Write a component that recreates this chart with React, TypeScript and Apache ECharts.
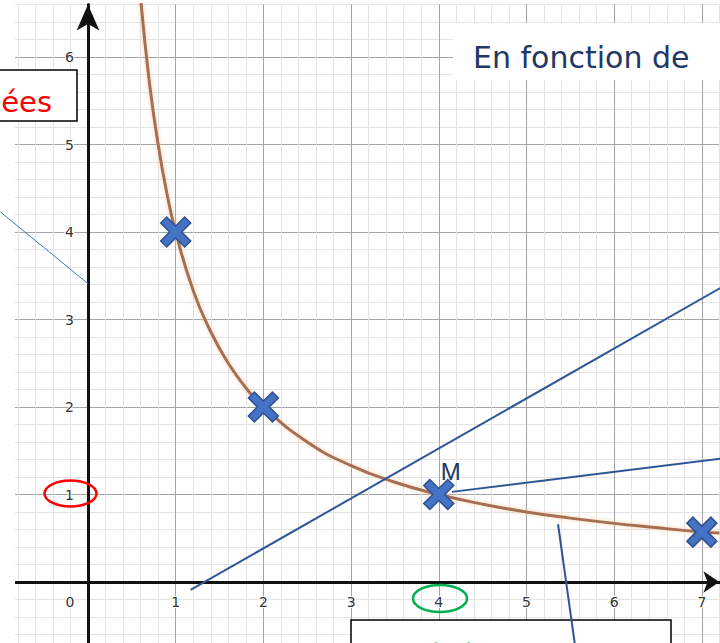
import React, { useEffect, useRef } from "react";
import * as echarts from "echarts";

// Tick labels shown on the axes
const xTickLabels = [0, 1, 2, 3, 4, 5, 6, 7];
const yTickLabels = [1, 2, 3, 4, 5, 6];

// Curve (x, y)
const curveX = [0.6, 0.7, 0.8, 0.9, 1, 1.2, 1.4, 1.6, 1.8, 2, 2.5, 3, 3.5, 4, 4.5, 5, 5.5, 6, 6.5, 7, 7.2];
const curveY = [6.67, 5.71, 5.0, 4.44, 4.0, 3.33, 2.86, 2.5, 2.22, 2.0, 1.6, 1.33, 1.14, 1.0, 0.89, 0.8, 0.73, 0.67, 0.62, 0.57, 0.56];

// Marked points (crosses)
const pointsX = [1, 2, 4, 7];
const pointsY = [4, 2, 1, 0.57];
const pointNames = ["", "", "M", ""];

// Annotation pointer lines (data coordinates)
const pointerA = [[1.17, -0.09], [7.21, 3.36]];
const pointerB = [[4.15, 1.03], [7.21, 1.41]];
const pointerC = [[5.36, 0.66], [5.55, -0.7]];
const pointerD = [[-1.0, 4.23], [0, 3.41]];

const crossPath =
  "path://M2,0 L5,3 L8,0 L10,2 L7,5 L10,8 L8,10 L5,7 L2,10 L0,8 L3,5 L0,2 Z";

const MINOR = "#e4e4e4";
const MAJOR = "#a3a3a3";

function isInt(v: number) {
  return Math.abs(v - Math.round(v)) < 1e-6;
}

export default function App() {
  const ref = useRef<HTMLDivElement>(null);
  useEffect(() => {
    document.body.style.margin = "0";
    const chart = echarts.init(ref.current!, undefined, { renderer: "svg" });
    const labelStyle = {
      color: "#333",
      fontSize: 14,
      fontFamily: "DejaVu Sans",
      textBorderColor: "#fff",
      textBorderWidth: 2,
    };
    const option: any = {
      animation: false,
      backgroundColor: "#fff",
      grid: {
        left: 0.3,
        right: 0.6,
        top: 4.5,
        bottom: -9,
        containLabel: false,
        outerBoundsMode: "none",
      },
      xAxis: {
        type: "value",
        min: -1,
        max: 7.2,
        interval: 0.2,
        z: 0,
        axisLine: {
          onZero: true,
          symbol: ["none", "arrow"],
          symbolSize: [16, 16],
          lineStyle: { color: "#111", width: 3 },
        },
        axisTick: { show: false },
        splitLine: {
          show: true,
          lineStyle: { color: [MAJOR, MINOR, MINOR, MINOR, MINOR], width: 1 },
        },
        axisLabel: {
          ...labelStyle,
          margin: -57,
          formatter: (v: number) => {
            if (!isInt(v)) return "";
            const r = Math.round(v);
            if (!xTickLabels.includes(r)) return "";
            if (r === 0) return "{z|0}";
            return String(r);
          },
          rich: {
            z: { ...labelStyle, padding: [0, 36, 0, 0] },
          },
        },
      },
      yAxis: {
        type: "value",
        min: -0.8,
        max: 6.6,
        interval: 0.2,
        z: 0,
        axisLine: {
          onZero: true,
          symbol: ["none", "arrow"],
          symbolSize: [17, 26],
          lineStyle: { color: "#111", width: 3 },
        },
        axisTick: { show: false },
        splitLine: {
          show: true,
          lineStyle: { color: [MINOR, MINOR, MINOR, MINOR, MAJOR], width: 1 },
        },
        axisLabel: {
          ...labelStyle,
          margin: -73.5,
          formatter: (v: number) => {
            if (!isInt(v)) return "";
            const r = Math.round(v);
            return yTickLabels.includes(r) ? String(r) : "";
          },
        },
      },
      series: [
        {
          type: "line",
          data: curveX.map((x, i) => [x, curveY[i]]),
          smooth: true,
          showSymbol: false,
          lineStyle: {
            color: "#a56e55",
            width: 3,
            shadowColor: "rgba(245,195,150,0.8)",
            shadowBlur: 4,
          },
          z: 3,
        },
        {
          type: "line",
          data: pointerA,
          showSymbol: false,
          lineStyle: { color: "#2f5597", width: 2 },
          z: 4,
        },
        {
          type: "line",
          data: pointerB,
          showSymbol: false,
          lineStyle: { color: "#2f5597", width: 2 },
          z: 4,
        },
        {
          type: "line",
          data: pointerD,
          showSymbol: false,
          lineStyle: { color: "#4472c4", width: 1 },
          z: 4,
        },
        {
          type: "scatter",
          data: pointsX.map((x, i) => ({
            value: [x, pointsY[i]],
            label: pointNames[i]
              ? {
                  show: true,
                  formatter: pointNames[i],
                  position: "inside",
                  offset: [12, -23],
                  color: "#1f3864",
                  fontSize: 24,
                  fontFamily: "Liberation Sans",
                }
              : { show: false },
          })),
          symbol: crossPath,
          symbolSize: 30,
          itemStyle: { color: "#4472c4", borderColor: "#2f528f", borderWidth: 1.5, opacity: 1 },
          z: 6,
        },
        {
          type: "line",
          data: pointerC,
          showSymbol: false,
          clip: false,
          lineStyle: { color: "#2f5597", width: 2 },
          z: 120,
        },
      ],
      graphic: [
        {
          type: "rect",
          z: 1,
          shape: { x: 0, y: 0, width: 15, height: 643 },
          style: { fill: "#fff", stroke: "none" },
        },
        {
          type: "rect",
          z: 100,
          shape: { x: -2, y: 70, width: 79, height: 51 },
          style: { fill: "#fff", stroke: "#000", lineWidth: 1.5 },
        },
        {
          type: "text",
          z: 101,
          style: {
            text: "ées",
            x: 52,
            y: 102,
            align: "right",
            verticalAlign: "middle",
            fill: "#ff0000",
            font: '29px "DejaVu Sans"',
          },
        },
        {
          type: "rect",
          z: 100,
          shape: { x: 453, y: 23, width: 270, height: 57 },
          style: { fill: "#fff", stroke: "none" },
        },
        {
          type: "text",
          z: 101,
          style: {
            text: "En fonction de",
            x: 473,
            y: 57,
            align: "left",
            verticalAlign: "middle",
            fill: "#1f3864",
            font: '30px "DejaVu Sans"',
          },
        },
        {
          type: "rect",
          z: 100,
          shape: { x: 351, y: 620, width: 320, height: 40 },
          style: { fill: "#fff", stroke: "#000", lineWidth: 1.5 },
        },
        {
          type: "text",
          z: 101,
          style: {
            text: "antécédent",
            x: 378,
            y: 670,
            align: "left",
            verticalAlign: "bottom",
            fill: "#00b050",
            font: '28px "DejaVu Sans"',
          },
        },
        {
          type: "ellipse",
          z: 102,
          shape: { cx: 70.5, cy: 493.5, rx: 26, ry: 13 },
          style: { fill: "none", stroke: "#ff0000", lineWidth: 2.5 },
        },
        {
          type: "ellipse",
          z: 102,
          shape: { cx: 440, cy: 598.5, rx: 27, ry: 13.5 },
          style: { fill: "none", stroke: "#00b050", lineWidth: 2.5 },
        },
      ],
    };
    chart.setOption(option);
    return () => chart.dispose();
  }, []);
  return (
    <div
      ref={ref}
      style={{ position: "fixed", left: 0, top: 0, width: 720, height: 643 }}
    />
  );
}
